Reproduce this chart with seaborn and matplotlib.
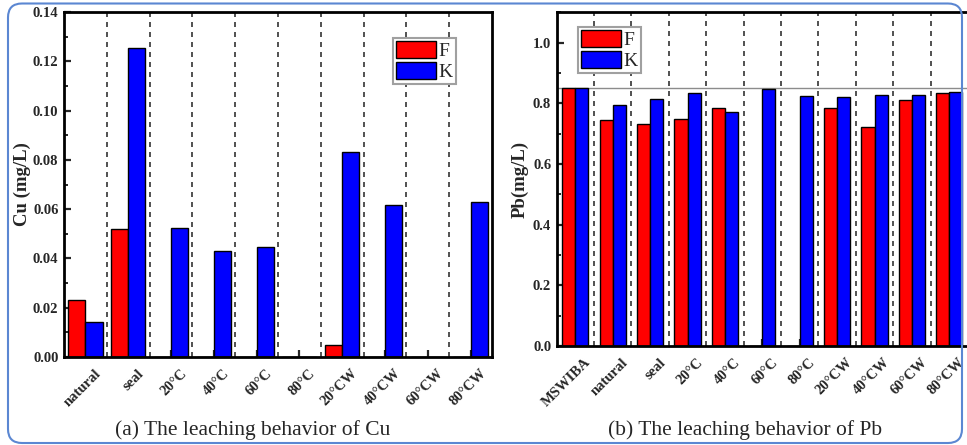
import numpy as np
import pandas as pd
import matplotlib
matplotlib.use("Agg")
import matplotlib.pyplot as plt
import matplotlib.transforms as mtransforms
from matplotlib.patches import FancyBboxPatch
from matplotlib.ticker import MultipleLocator, FormatStrFormatter
import seaborn as sns

# ---- data -------------------------------------------------------------
cu_sites = ["natural", "seal", "20°C", "40°C", "60°C", "80°C",
            "20°CW", "40°CW", "60°CW", "80°CW"]
cu_f = [0.023, 0.052, 0.0, 0.0, 0.0, 0.0, 0.005, 0.0, 0.0, 0.0]
cu_k = [0.0143, 0.1255, 0.0525, 0.043, 0.0447, 0.0, 0.083, 0.0618, 0.0, 0.0627]

pb_sites = ["MSWIBA", "natural", "seal", "20°C", "40°C", "60°C", "80°C",
            "20°CW", "40°CW", "60°CW", "80°CW"]
pb_f = [0.85, 0.745, 0.732, 0.747, 0.784, 0.0, 0.0, 0.784, 0.722, 0.812, 0.834]
pb_k = [0.85, 0.795, 0.814, 0.835, 0.771, 0.848, 0.824, 0.821, 0.828, 0.826, 0.837]

series = ["F", "K"]
colors = {"F": "#ff0000", "K": "#0000ff"}

sns.set_style("ticks")
plt.rcParams["font.family"] = ["Liberation Serif", "DejaVu Serif"]

W, H = 967, 445
fig = plt.figure(figsize=(W / 100, H / 100), dpi=100)
fig.patch.set_facecolor("white")


def axes_px(left, top, right, bottom):
    return fig.add_axes([left / W, 1 - bottom / H, (right - left) / W, (bottom - top) / H])


def long_table(sites, f, k):
    return pd.DataFrame({
        "site": list(sites) * 2,
        "series": ["F"] * len(sites) + ["K"] * len(sites),
        "value": list(f) + list(k),
    })


def draw_panel(ax, sites, f, k, width, ymax, major, minor, fmt, ylabel,
               legend_xy, label_x):
    sns.barplot(data=long_table(sites, f, k), x="site", y="value", hue="series",
                order=sites, hue_order=series, palette=colors, width=width,
                saturation=1, edgecolor="black", linewidth=1.0,
                errorbar=None, ax=ax, zorder=2)
    n = len(sites)
    ax.set_xlim(-0.5, n - 0.5)
    ax.set_ylim(0, ymax)
    for i in range(n - 1):
        ax.axvline(i + 0.5, color="#333333", lw=1.2, ls=(0, (3, 3)), zorder=0.5)

    ax.yaxis.set_major_locator(MultipleLocator(major))
    ax.yaxis.set_minor_locator(MultipleLocator(minor))
    ax.yaxis.set_major_formatter(FormatStrFormatter(fmt))
    ax.tick_params(axis="y", which="major", direction="in", length=5, width=1.6,
                   labelsize=10.5, pad=4, left=True, right=False)
    ax.tick_params(axis="y", which="minor", direction="in", length=3, width=1.4,
                   left=True, right=False)
    ax.tick_params(axis="x", which="major", direction="in", length=5, width=1.6,
                   labelsize=10.5, pad=7, bottom=True, top=False)
    for lab in ax.get_yticklabels():
        lab.set_fontweight("bold")
    shift = mtransforms.ScaledTranslation(0.09, 0.0, fig.dpi_scale_trans)
    for lab in ax.get_xticklabels():
        lab.set_rotation(45)
        lab.set_ha("right")
        lab.set_va("top")
        lab.set_rotation_mode("anchor")
        lab.set_fontweight("bold")
        lab.set_transform(lab.get_transform() + shift)

    for side in ("left", "right", "top", "bottom"):
        ax.spines[side].set_visible(True)
        ax.spines[side].set_linewidth(2.0)
        ax.spines[side].set_color("black")

    ax.set_xlabel("")
    ax.set_ylabel(ylabel, fontsize=13.5, fontweight="bold")
    ax.yaxis.set_label_coords(label_x, 0.5)

    handles, labels = ax.get_legend_handles_labels()
    if ax.get_legend() is not None:
        ax.get_legend().remove()
    leg = ax.legend(handles, labels, loc="upper left",
                    bbox_to_anchor=(legend_xy[0] / W, 1 - legend_xy[1] / H),
                    bbox_transform=fig.transFigure, borderaxespad=0,
                    fontsize=14, handlelength=2.05, handleheight=1.0,
                    labelspacing=0.08, handletextpad=0.15, borderpad=0.15,
                    fancybox=False, framealpha=1, edgecolor="#a0a0a0")
    leg.get_frame().set_linewidth(1.5)
    return ax


# ---- panel (a): Cu ----------------------------------------------------
ax1 = axes_px(64, 12, 492, 357)
draw_panel(ax1, cu_sites, cu_f, cu_k, 0.8, 0.14, 0.02, 0.01, "%.2f",
           "Cu (mg/L)", (393, 38), -0.078)

# ---- panel (b): Pb ----------------------------------------------------
ax2 = axes_px(556.7, 12.3, 968, 346)
draw_panel(ax2, pb_sites, pb_f, pb_k, 0.7, 1.1, 0.2, 0.1, "%.1f",
           "Pb(mg/L)", (578, 27), -0.068)
# leaching level of the untreated ash as reference line
ax2.axhline(pb_k[0], color="#8c8c8c", lw=1.0, zorder=0.6)

# ---- captions and outer frame ----------------------------------------
fig.text(253 / W, 1 - 430 / H, "(a) The leaching behavior of Cu",
         ha="center", va="center", fontsize=15.5)
fig.text(745 / W, 1 - 430 / H, "(b) The leaching behavior of Pb",
         ha="center", va="center", fontsize=15.5)

frame = FancyBboxPatch((8, 2), 954, 439.5,
                       boxstyle="round,pad=0,rounding_size=14",
                       transform=None, fill=False, edgecolor="#5b87d2",
                       linewidth=1.5, zorder=10)
fig.patches.append(frame)

fig.savefig("out.png", dpi=100, facecolor="white")
